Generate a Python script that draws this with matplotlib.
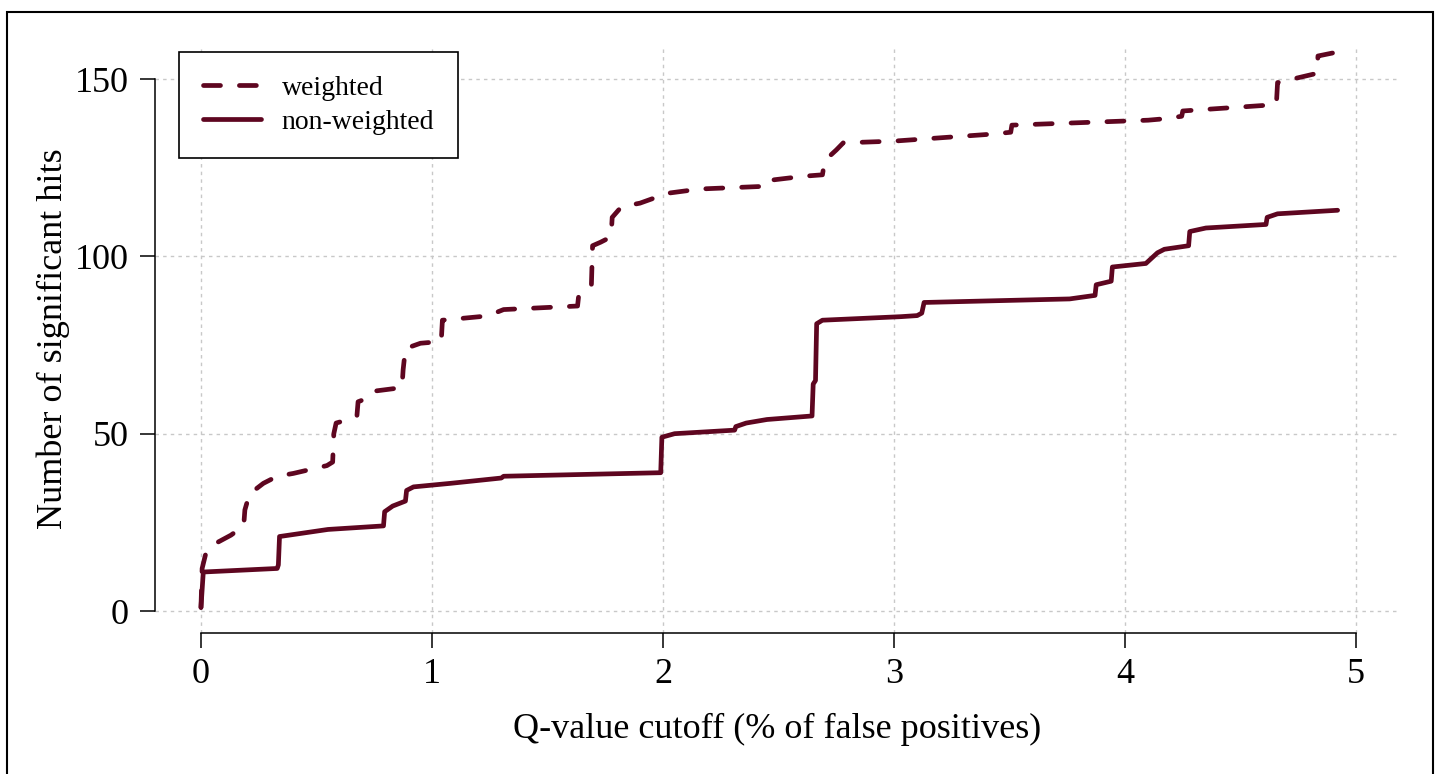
import numpy as np
import matplotlib
matplotlib.use("Agg")
import matplotlib.pyplot as plt
from matplotlib.patches import Rectangle

plt.rcParams["font.family"] = ["Liberation Serif", "DejaVu Serif"]

# curva ponderada (weighted): q-value cutoff vs numero de hits
q_weighted = [0, 0.005, 0.02, 0.05, 0.13, 0.185, 0.19, 0.21, 0.27, 0.33,
              0.40, 0.545, 0.57, 0.575, 0.585, 0.66, 0.675, 0.68, 0.72, 0.75,
              0.87, 0.875, 0.885, 0.95, 1.04, 1.045, 1.24, 1.31, 1.63, 1.635,
              1.69, 1.695, 1.73, 1.775, 1.78, 1.82, 1.90, 2.02, 2.16, 2.42,
              2.43, 2.61, 2.69, 2.70, 2.75, 2.78, 3.0, 3.43, 3.505, 3.51,
              4.1, 4.17, 4.245, 4.25, 4.61, 4.655, 4.66, 4.83, 4.835, 4.91]
n_weighted = [1, 12, 16, 18.6, 21.4, 24, 28.5, 33, 36, 38,
              38.8, 41, 42, 50, 53, 54.4, 55, 59, 60, 62,
              63, 68, 74, 75.5, 76, 82, 83.2, 85, 86, 89,
              92, 103, 104, 105.5, 111, 114, 115, 117.8, 119, 119.7,
              121.2, 122.6, 123, 127, 130, 132, 132.5, 134.5, 135, 137,
              138.4, 138.8, 139.5, 141, 142.6, 143, 149, 151.6, 156.5, 157.5]

# curva sin ponderar (non-weighted)
q_plain = [0, 0.005, 0.01, 0.33, 0.335, 0.34, 0.55, 0.79, 0.795, 0.83,
           0.885, 0.89, 0.92, 1.08, 1.30, 1.31, 1.99, 1.995, 2.05, 2.31,
           2.315, 2.36, 2.45, 2.645, 2.65, 2.66, 2.665, 2.69, 3.03, 3.10,
           3.12, 3.13, 3.76, 3.87, 3.875, 3.94, 3.945, 4.09, 4.14, 4.17,
           4.275, 4.28, 4.35, 4.61, 4.615, 4.66, 4.92]
n_plain = [1, 6, 11, 12, 13, 21, 23, 24, 28, 29.6,
           31, 34, 35, 36, 37.5, 38, 39, 49, 50, 51,
           52, 53, 54, 55, 64, 65, 81, 82, 83, 83.3,
           84, 87, 88, 89, 92, 93, 97, 98, 101, 102,
           103, 107, 108, 109, 111, 112, 113]

x_ticks = [0, 1, 2, 3, 4, 5]
y_ticks = [0, 50, 100, 150]

COLOR = "#5e0620"
W, H = 1440, 774

fig = plt.figure(figsize=(W / 100, H / 100), dpi=100)
# marco exterior de la figura
fig.patches.append(Rectangle((7 / W, -0.05), (1433 - 7) / W, 1.05 - 12 / H,
                             transform=fig.transFigure, fill=False,
                             edgecolor="black", linewidth=1.5))

ax = fig.add_axes([155 / W, (H - 633) / H, (1400 - 155) / W, (633 - 45) / H])
ax.set_xlim(-0.199, 5.19)
ax.set_ylim(-6.2, 159.6)

ax.grid(True, color="#c8c8c8", linestyle=(0, (2.5, 3)), linewidth=1.0)
ax.set_axisbelow(True)

ax.plot(q_weighted, n_weighted, color=COLOR, linewidth=3.4,
        dashes=(3.6, 4.0), dash_capstyle="round", solid_capstyle="round",
        label="weighted")
ax.plot(q_plain, n_plain, color=COLOR, linewidth=3.4,
        solid_capstyle="round", solid_joinstyle="round", label="non-weighted")

for s in ["top", "right"]:
    ax.spines[s].set_visible(False)
ax.spines["left"].set_bounds(0, 150)
ax.spines["bottom"].set_bounds(0, 5)
for s in ["left", "bottom"]:
    ax.spines[s].set_linewidth(1.1)

ax.set_xticks(x_ticks)
ax.set_yticks(y_ticks)
ax.tick_params(axis="both", direction="out", length=11, width=1.1,
               labelsize=26, pad=7)
ax.tick_params(axis="y", pad=8)

ax.set_xlabel("Q-value cutoff (% of false positives)", fontsize=26, labelpad=16)
ax.set_ylabel("Number of significant hits", fontsize=26, labelpad=3)

leg = ax.legend(loc="upper left", bbox_to_anchor=(179 / W, 1 - 52 / H),
                bbox_transform=fig.transFigure, borderaxespad=0,
                fontsize=20, handlelength=2.1, handletextpad=0.75,
                labelspacing=0.3, borderpad=0.85, fancybox=False,
                framealpha=1, edgecolor="black")
leg.get_frame().set_linewidth(1.2)

fig.savefig("out.png", dpi=100)
